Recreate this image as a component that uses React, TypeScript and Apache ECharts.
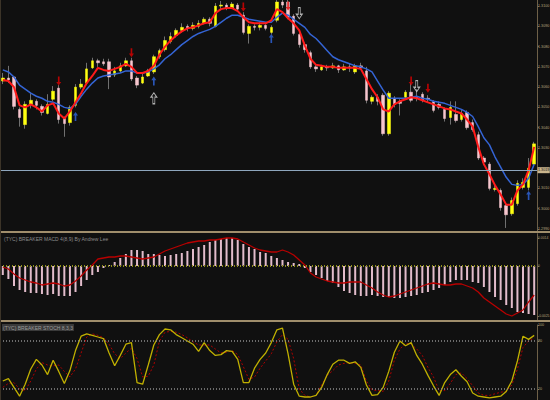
import { useEffect, useRef } from "react";
import * as echarts from "echarts";

const OPEN = [
  1.3063, 1.30645, 1.3065, 1.3049, 1.30415, 1.30515, 1.3053, 1.30505, 1.3047, 1.3054,
  1.30595, 1.30445, 1.30425, 1.3051, 1.306, 1.3062, 1.30695, 1.3073, 1.30725, 1.30725,
  1.3066, 1.3068, 1.30705, 1.3073, 1.30645, 1.3062, 1.30655, 1.30675, 1.3075, 1.30785,
  1.30825, 1.30855, 1.3088, 1.309, 1.3089, 1.309, 1.30915, 1.30935, 1.309, 1.31,
  1.31005, 1.3099, 1.31005, 1.30955, 1.30865, 1.309, 1.30895, 1.30905, 1.3087, 1.3093,
  1.3102, 1.3102, 1.3095, 1.3086, 1.3081, 1.3077, 1.307, 1.30685, 1.307, 1.30695,
  1.30705, 1.30685, 1.307, 1.30675, 1.30705, 1.3068, 1.3053, 1.3055, 1.3056, 1.3037,
  1.30545, 1.3053, 1.3055, 1.30575, 1.3055, 1.30565, 1.30545, 1.3053, 1.30515, 1.3049,
  1.3045, 1.30465, 1.3044, 1.30475, 1.30425, 1.30365, 1.3025, 1.3022, 1.30095, 1.3009,
  1.30015, 1.29975, 1.30025, 1.30105, 1.30105, 1.3022,
];
const CLOSE = [
  1.30645, 1.30635, 1.30505, 1.3045, 1.30515, 1.30535, 1.3051, 1.30475, 1.30515, 1.3058,
  1.3044, 1.3042, 1.305, 1.306, 1.30615, 1.3069, 1.3073, 1.3072, 1.30715, 1.3065,
  1.3068, 1.30705, 1.3073, 1.3064, 1.3061, 1.3065, 1.3068, 1.3075, 1.3078, 1.3083,
  1.3085, 1.3088, 1.30895, 1.3089, 1.30905, 1.30915, 1.30935, 1.30915, 1.31, 1.31005,
  1.3099, 1.3101, 1.30985, 1.3087, 1.309, 1.30895, 1.30905, 1.3089, 1.30895, 1.3102,
  1.31005, 1.30945, 1.30865, 1.3081, 1.30785, 1.307, 1.3069, 1.307, 1.30695, 1.30705,
  1.30685, 1.307, 1.30695, 1.30705, 1.30695, 1.30535, 1.3055, 1.3053, 1.3037, 1.3057,
  1.30515, 1.3052, 1.30575, 1.30535, 1.30545, 1.30535, 1.3054, 1.30485, 1.305, 1.30445,
  1.305, 1.30435, 1.3047, 1.304, 1.3039, 1.3025, 1.3023, 1.301, 1.301, 1.30005,
  1.2997, 1.3004, 1.30125, 1.3013, 1.302, 1.3032,
];
const LOW = [
  1.30615, 1.3062, 1.3049, 1.30405, 1.30395, 1.30495, 1.3049, 1.3046, 1.30465, 1.3053,
  1.3042, 1.30355, 1.3041, 1.305, 1.3059, 1.3061, 1.3069, 1.307, 1.30705, 1.3059,
  1.3065, 1.3067, 1.307, 1.3063, 1.30595, 1.30615, 1.3065, 1.30665, 1.3074, 1.30775,
  1.30815, 1.30845, 1.3087, 1.30875, 1.3088, 1.3089, 1.3091, 1.309, 1.30895, 1.3098,
  1.3098, 1.30985, 1.30975, 1.3086, 1.30815, 1.3088, 1.3088, 1.3088, 1.3086, 1.3092,
  1.3099, 1.30935, 1.30855, 1.30795, 1.3077, 1.3069, 1.30675, 1.3068, 1.3068, 1.3069,
  1.3067, 1.3068, 1.30675, 1.30665, 1.30685, 1.3052, 1.30515, 1.3051, 1.3036, 1.3036,
  1.305, 1.3046, 1.3054, 1.30525, 1.3053, 1.30525, 1.30525, 1.30475, 1.3049, 1.3043,
  1.30415, 1.30425, 1.3043, 1.3039, 1.3038, 1.3024, 1.30215, 1.3009, 1.30085, 1.2999,
  1.29905, 1.29965, 1.30015, 1.30095, 1.3009, 1.30205,
];
const HIGH = [
  1.3067, 1.30705, 1.30655, 1.305, 1.3053, 1.3057, 1.3054, 1.30515, 1.30565, 1.30605,
  1.3061, 1.30455, 1.3051, 1.30615, 1.3064, 1.3072, 1.30745, 1.3074, 1.3074, 1.3074,
  1.307, 1.3072, 1.30745, 1.30745, 1.30655, 1.30665, 1.3069, 1.3076, 1.3079, 1.3085,
  1.3087, 1.3089, 1.30915, 1.3091, 1.3092, 1.3093, 1.30945, 1.30945, 1.31015, 1.31025,
  1.31015, 1.3102, 1.31015, 1.3097, 1.3091, 1.3091, 1.3092, 1.3091, 1.30905, 1.3103,
  1.3103, 1.3103, 1.3096, 1.3087, 1.3082, 1.3078, 1.3071, 1.3071, 1.3071, 1.3072,
  1.3071, 1.30715, 1.30715, 1.30715, 1.3072, 1.307, 1.3056, 1.30565, 1.3057, 1.3058,
  1.30555, 1.3054, 1.30585, 1.3062, 1.3059, 1.30575, 1.3056, 1.30535, 1.3053, 1.305,
  1.3053, 1.3053, 1.3049, 1.30485, 1.3044, 1.3038, 1.3026, 1.3023, 1.30115, 1.301,
  1.3003, 1.30055, 1.3014, 1.3015, 1.3025, 1.3033,
];
const MA_FAST = [
  1.30635, 1.3063, 1.306, 1.3051, 1.305, 1.30515, 1.305, 1.3048, 1.3051, 1.3052,
  1.3047, 1.30445, 1.3048, 1.30525, 1.3057, 1.3062, 1.30655, 1.30695, 1.30685, 1.3068,
  1.3069, 1.307, 1.30715, 1.307, 1.3067, 1.3067, 1.3068, 1.30705, 1.3076, 1.308,
  1.3083, 1.30855, 1.30875, 1.3089, 1.30895, 1.30905, 1.30915, 1.3092, 1.30965, 1.30985,
  1.3099, 1.3099, 1.30975, 1.30945, 1.3092, 1.30915, 1.30915, 1.30915, 1.3093, 1.30985,
  1.3097, 1.3094, 1.30915, 1.3088, 1.30805, 1.3074, 1.3071, 1.30705, 1.307, 1.307,
  1.30695, 1.30695, 1.30695, 1.30695, 1.3069, 1.3064, 1.3059, 1.3055, 1.3049, 1.3048,
  1.30515, 1.3053, 1.3054, 1.3055, 1.30545, 1.30535, 1.30525, 1.30515, 1.30505, 1.30495,
  1.3049, 1.3048, 1.3047, 1.3044, 1.30405, 1.30305, 1.3022, 1.3017, 1.30115, 1.3007,
  1.3002, 1.3002, 1.3009, 1.3012, 1.3019, 1.30305,
];
const MA_SLOW = [
  1.30685, 1.30675, 1.3065, 1.3061, 1.3059, 1.3057, 1.30555, 1.30545, 1.3053, 1.30525,
  1.30515, 1.305, 1.30495, 1.30515, 1.30555, 1.3059, 1.3062, 1.30645, 1.30655, 1.3066,
  1.30665, 1.3067, 1.3068, 1.3068, 1.3067, 1.3067, 1.30675, 1.3069, 1.3071, 1.3074,
  1.3076, 1.30785, 1.3081, 1.3083, 1.3085, 1.30865, 1.30875, 1.30885, 1.309, 1.3092,
  1.3094, 1.30955, 1.30955, 1.30945, 1.30935, 1.3093, 1.30925, 1.3092, 1.3092, 1.30945,
  1.30965, 1.30955, 1.30935, 1.30915, 1.30895, 1.3086, 1.3084, 1.3081, 1.3078, 1.3075,
  1.30735, 1.30725, 1.30715, 1.30705, 1.307, 1.3069, 1.30675, 1.3063, 1.30585, 1.30545,
  1.30545, 1.30545, 1.30545, 1.3055, 1.30555, 1.30545, 1.3054, 1.3053, 1.30525, 1.3052,
  1.3051, 1.305, 1.3049, 1.30475, 1.30455, 1.30405, 1.3035, 1.30315, 1.30255, 1.30205,
  1.30155, 1.3012, 1.30115, 1.3012, 1.3015, 1.3022,
];
const MACD_HIST = [
  -0.00045, -0.00065, -0.001, -0.0012, -0.0013, -0.00135, -0.00135, -0.0014, -0.00145, -0.0014,
  -0.0015, -0.0015, -0.0015, -0.0013, -0.001, -0.0007, -0.00045, -0.0003, -0.0001, 0.00005,
  0.0002, 0.0004, 0.0006, 0.0008, 0.0008, 0.00075, 0.0006, 0.0006, 0.00055, 0.0005,
  0.00055, 0.0006, 0.00065, 0.00075, 0.00085, 0.00095, 0.00105, 0.0012, 0.0013, 0.00135,
  0.0014, 0.0014, 0.0013, 0.0011, 0.00095, 0.00085, 0.0007, 0.00065, 0.0005, 0.0004,
  0.0003, 0.0002, 0.00015, 0.0001, -0.0001, -0.0003, -0.00045, -0.0006, -0.00075, -0.00085,
  -0.00105, -0.00125, -0.00135, -0.00145, -0.0015, -0.0015, -0.00145, -0.0015, -0.00155, -0.00155,
  -0.0016, -0.0016, -0.00155, -0.0015, -0.00145, -0.00135, -0.0013, -0.0012, -0.0011, -0.00095,
  -0.0008, -0.0007, -0.0007, -0.0007, -0.0008, -0.00085, -0.00105, -0.0013, -0.00155, -0.0017,
  -0.00195, -0.0021, -0.0023, -0.00235, -0.0024, -0.00245,
];
const MACD_SIGNAL = [
  -0.00005, -0.00015, -0.0004, -0.0006, -0.0007, -0.0008, -0.00085, -0.00095, -0.0009, -0.00085,
  -0.0009, -0.001, -0.00095, -0.00075, -0.0005, -0.0002, 0.00005, 0.00035, 0.0004, 0.00045,
  0.00045, 0.0005, 0.0005, 0.00045, 0.0004, 0.00035, 0.0004, 0.00045, 0.0006, 0.00075,
  0.00085, 0.00095, 0.00105, 0.00115, 0.0012, 0.00125, 0.00125, 0.0013, 0.0013, 0.00135,
  0.0014, 0.0014, 0.00135, 0.0012, 0.00105, 0.0009, 0.0008, 0.00075, 0.0007, 0.0007,
  0.0008, 0.0007, 0.00055, 0.0003, 0.00005, -0.00035, -0.00055, -0.00065, -0.00075, -0.0008,
  -0.00085, -0.00085, -0.0008, -0.0008, -0.0008, -0.00095, -0.0011, -0.0013, -0.00145, -0.00155,
  -0.0015, -0.0014, -0.0013, -0.0012, -0.0011, -0.001, -0.0009, -0.00085, -0.0009, -0.00095,
  -0.00095, -0.0009, -0.0009, -0.001, -0.0011, -0.0013, -0.0016, -0.0018, -0.002, -0.0022,
  -0.0024, -0.0025, -0.00235, -0.0022, -0.0018, -0.00145,
];
const STOCH_K = [
  30, 33, 22, 11, 26, 45, 57, 50, 38, 56,
  42, 27, 43, 68, 86, 89, 87, 85, 83, 65,
  49, 62, 76, 78, 28, 26, 50, 75, 88, 95,
  94, 88, 84, 80, 76, 67, 78, 68, 62, 63,
  68, 67, 57, 28, 28, 46, 57, 65, 78, 94,
  96, 64, 26, 11, 10, 10, 12, 22, 38, 51,
  56, 56, 52, 54, 47, 25, 12, 13, 22, 42,
  66, 80, 74, 78, 62, 51, 37, 24, 12, 28,
  38, 44, 36, 29, 15, 11, 10, 9, 10, 11,
  17, 30, 55, 86, 82, 87,
];
const STOCH_D = [
  22, 27, 28, 20, 18, 30, 45, 53, 50, 49,
  50, 42, 35, 45, 65, 85, 89, 87, 84, 76,
  64, 58, 65, 71, 58, 35, 36, 50, 80, 91,
  92, 91, 88, 84, 79, 75, 75, 75, 70, 65,
  66, 68, 63, 48, 32, 35, 46, 55, 64, 79,
  88, 82, 58, 20, 12, 10, 12, 25, 37, 43,
  50, 52, 53, 52, 50, 30, 19, 18, 17, 30,
  56, 70, 77, 76, 70, 62, 47, 35, 18, 18,
  27, 38, 40, 33, 24, 15, 12, 12, 14, 16,
  17, 25, 45, 72, 80, 84,
];
const SELL_ARROWS = [[10, 1.3063], [23, 1.3077], [43, 1.30995], [51, 1.31], [73, 1.3063], [76, 1.30595]];
const BUY_ARROWS = [[13, 1.30455], [27, 1.3063], [48, 1.3084], [94, 1.30065]];
const HOLLOW_UP = [[27, 1.30545]];
const HOLLOW_DOWN = [[53, 1.30965], [74, 1.30605]];
const LAST_PRICE = 1.3019;
const PRICE_TICKS = [1.299, 1.3, 1.301, 1.302, 1.303, 1.304, 1.305, 1.306, 1.307, 1.308, 1.309, 1.31];
const MACD_TICKS = [0.0014, 0, -0.0025];
const STOCH_TICKS = [100, 80, 20];
const MACD_TITLE = "(TYC) BREAKER MACD 4(8,9) By Andrew Lee";
const STOCH_TITLE = "(TYC) BREAKER STOCH 8,3,3";

const DOWN_ARROW = "path://M2,0L4,0L4,6L6,6L3,10L0,6L2,6Z";
const UP_ARROW = "path://M3,0L6,4L4,4L4,10L2,10L2,4L0,4Z";

export default function App() {
  const ref = useRef<HTMLDivElement>(null);
  useEffect(() => {
    const chart = echarts.init(ref.current!, null, { renderer: "svg" });
    const cats = CLOSE.map((_, i) => String(i + 1));
    const wick = CLOSE.map((c, i) => [OPEN[i], c, LOW[i], HIGH[i]]);
    const body = CLOSE.map((c, i) => [OPEN[i], c, Math.min(OPEN[i], c), Math.max(OPEN[i], c)]);
    const priceLabels = PRICE_TICKS.filter((v) => Math.abs(v - LAST_PRICE) > 0.0005);
    const axisCol = "#6e6048";
    const labelCol = "#b8a47c";
    const font = "Liberation Sans";
    const xAx = (g: number) => ({
      type: "category", data: cats, gridIndex: g, boundaryGap: true, show: false,
    });
    const yBase = (
      g: number, min: number, max: number, ticks: number[], labels: number[],
      fmt: (v: number) => string, size: number,
    ) => ({
      type: "value", gridIndex: g, position: "right", min, max, scale: true,
      axisLine: { show: true, lineStyle: { color: axisCol, width: 1 } },
      axisTick: { show: true, customValues: ticks, length: 2, lineStyle: { color: axisCol } },
      axisLabel: { customValues: labels, formatter: fmt, color: labelCol, fontSize: size, margin: 1, fontFamily: font },
      splitLine: { show: false },
    });
    const gridBase = { left: 0, right: 13, containLabel: false, outerBoundsMode: "none" };
    const option: any = {
      animation: false,
      backgroundColor: "#101010",
      grid: [
        { ...gridBase, top: 0, height: 233 },
        { ...gridBase, top: 234, height: 86 },
        { ...gridBase, top: 325, height: 75 },
      ],
      xAxis: [xAx(0), xAx(1), xAx(2)],
      yAxis: [
        yBase(0, 1.2988, 1.3103, PRICE_TICKS, priceLabels, (v: number) => v.toFixed(4), 3.7),
        yBase(1, -0.0027, 0.0016, MACD_TICKS, MACD_TICKS, (v: number) => (v === 0 ? "0" : v.toFixed(4)), 3.4),
        yBase(2, 6.25, 100, STOCH_TICKS, STOCH_TICKS, (v: number) => String(v), 3.7),
      ],
      series: [
        {
          type: "candlestick", xAxisIndex: 0, yAxisIndex: 0, data: wick, barWidth: 1,
          itemStyle: { color: "#707070", color0: "#707070", borderColor: "#707070", borderColor0: "#707070", borderWidth: 1 },
        },
        {
          type: "candlestick", xAxisIndex: 0, yAxisIndex: 0, data: body, barWidth: 3,
          itemStyle: { color: "#ffff10", color0: "#f6c6ce", borderColor: "#ffff10", borderColor0: "#f6c6ce", borderWidth: 0.5 },
        },
        {
          type: "line", xAxisIndex: 0, yAxisIndex: 0, data: MA_SLOW, symbol: "none",
          lineStyle: { color: "#3464d4", width: 1.5 },
          markLine: {
            silent: true, symbol: "none", precision: 4,
            data: [{ yAxis: LAST_PRICE }],
            lineStyle: { color: "#8ea6bd", width: 1, type: "solid" },
            label: {
              position: "end", formatter: () => LAST_PRICE.toFixed(4), color: "#111", fontSize: 3.7,
              backgroundColor: "#c9b58d", padding: [1, 0.5], distance: 0.5, fontFamily: font,
            },
          },
        },
        {
          type: "line", xAxisIndex: 0, yAxisIndex: 0, data: MA_FAST, symbol: "none",
          lineStyle: { color: "#ff1a1a", width: 2 },
        },
        {
          type: "scatter", xAxisIndex: 0, yAxisIndex: 0, data: SELL_ARROWS, symbol: DOWN_ARROW,
          symbolSize: [5, 9], itemStyle: { color: "#e00000" },
        },
        {
          type: "scatter", xAxisIndex: 0, yAxisIndex: 0, data: BUY_ARROWS, symbol: UP_ARROW,
          symbolSize: [5, 9], itemStyle: { color: "#2f66e0" },
        },
        {
          type: "scatter", xAxisIndex: 0, yAxisIndex: 0, data: HOLLOW_UP, symbol: UP_ARROW,
          symbolSize: [6, 11], itemStyle: { color: "rgba(0,0,0,0)", borderColor: "#d8d8d8", borderWidth: 1 },
        },
        {
          type: "scatter", xAxisIndex: 0, yAxisIndex: 0, data: HOLLOW_DOWN, symbol: DOWN_ARROW,
          symbolSize: [6, 11], itemStyle: { color: "rgba(0,0,0,0)", borderColor: "#d8d8d8", borderWidth: 1 },
        },
        {
          type: "bar", xAxisIndex: 1, yAxisIndex: 1, data: MACD_HIST, barWidth: 2,
          itemStyle: { color: "#e2bccb" },
          markLine: {
            silent: true, symbol: "none", data: [{ yAxis: 0 }],
            lineStyle: { color: "#8f8f1c", width: 2, type: [1, 2] },
            label: { show: false },
          },
        },
        {
          type: "line", xAxisIndex: 1, yAxisIndex: 1, data: MACD_SIGNAL, symbol: "none",
          lineStyle: { color: "#b80000", width: 1.3 },
        },
        {
          type: "line", xAxisIndex: 2, yAxisIndex: 2, data: STOCH_D, symbol: "none",
          lineStyle: { color: "#b00000", width: 1, type: [2, 2] },
          markLine: {
            silent: true, symbol: "none", data: [{ yAxis: 80 }, { yAxis: 20 }],
            lineStyle: { color: "#8a8a8a", width: 1.5, type: [1, 2] },
            label: { show: false },
          },
        },
        {
          type: "line", xAxisIndex: 2, yAxisIndex: 2, data: STOCH_K, symbol: "none",
          lineStyle: { color: "#c0b000", width: 1.3 },
        },
      ],
      graphic: [
        { type: "rect", z: 100, shape: { x: 0, y: 231, width: 550, height: 2 }, style: { fill: "#a08e6c" } },
        { type: "rect", z: 100, shape: { x: 0, y: 320, width: 550, height: 2 }, style: { fill: "#a08e6c" } },
        { type: "rect", z: 100, shape: { x: 0, y: 0, width: 1, height: 400 }, style: { fill: "#3c3428" } },
        {
          type: "text", z: 100, x: 4, y: 236,
          style: { text: MACD_TITLE, fill: "#8c8c8c", fontSize: 5, fontFamily: font },
        },
        {
          type: "text", z: 100, x: 2, y: 324,
          style: { text: STOCH_TITLE, fill: "#9a9a9a", fontSize: 5, fontFamily: font, backgroundColor: "#3a3a3a", padding: [1, 1] },
        },
      ],
    };
    chart.setOption(option);
    return () => chart.dispose();
  }, []);
  return (
    <div
      ref={ref}
      style={{ position: "absolute", left: 0, top: 0, width: 550, height: 400, background: "#101010" }}
    />
  );
}
